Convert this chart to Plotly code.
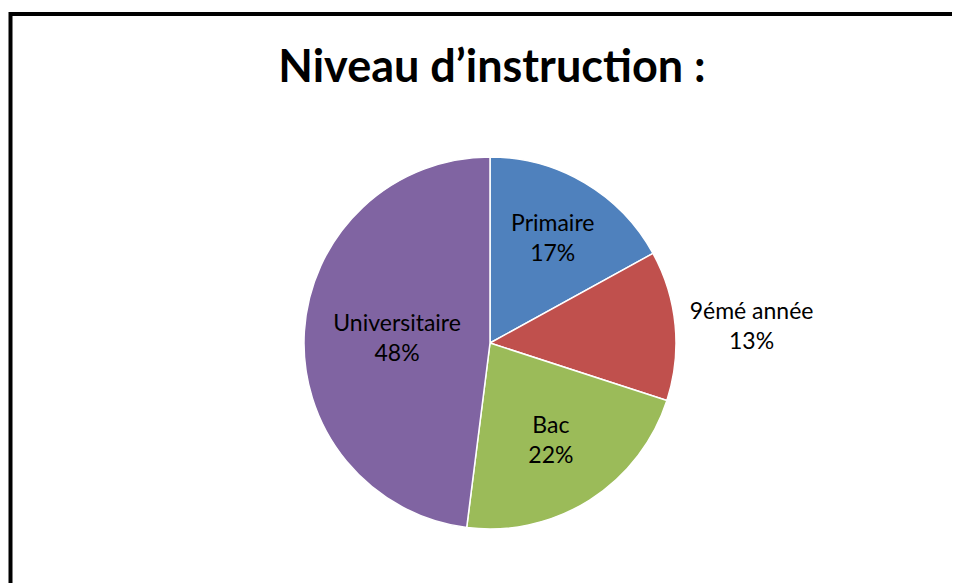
import plotly.graph_objects as go

categories = ["Primaire", "9émé année", "Bac", "Universitaire"]
values = [17, 13, 22, 48]
colors = ["#4F81BD", "#C0504D", "#9BBB59", "#8064A2"]
title_text = "Niveau d’instruction :"

W, H = 960, 583
OX, OY = 8, 8  # page offset of the plot div
cx, cy, r = 490 - OX, 343 - OY, 186

FONT = "Lato, 'Open Sans', sans-serif"

fig = go.Figure(go.Pie(
    labels=categories,
    values=values,
    sort=False,
    direction="clockwise",
    rotation=0,
    marker=dict(colors=colors, line=dict(color="white", width=1.5)),
    texttemplate="%{label}<br>%{percent:.0%}",
    textposition=["inside", "outside", "inside", "inside"],
    insidetextorientation="horizontal",
    textfont=dict(family=FONT, size=23, color="black"),
    outsidetextfont=dict(family=FONT, size=23, color="black"),
    insidetextfont=dict(family=FONT, size=23, color="black"),
    hoverinfo="label+percent",
    showlegend=False,
    domain=dict(x=[(cx - r) / W, (cx + r) / W], y=[1 - (cy + r) / H, 1 - (cy - r) / H]),
))

fig.update_layout(
    width=W, height=H,
    margin=dict(l=0, r=0, t=0, b=0),
    paper_bgcolor="white",
    plot_bgcolor="white",
    title=dict(text="<b>" + title_text + "</b>", x=(492 - OX) / W, xanchor="center",
               y=1 - (66 - OY) / H, yanchor="middle",
               font=dict(family=FONT, size=45, color="black")),
    shapes=[dict(type="rect", xref="paper", yref="paper",
                 x0=(10.5 - OX) / W, x1=1.05, y0=-0.05, y1=1 - (14 - OY) / H,
                 line=dict(color="black", width=4), fillcolor="rgba(0,0,0,0)")],
)

fig.write_html("out.html")
